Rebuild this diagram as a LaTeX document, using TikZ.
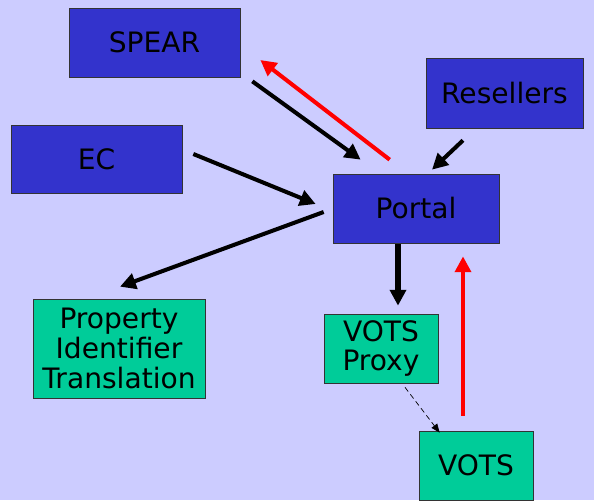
\documentclass[tikz,border=0pt]{standalone}
\usepackage{fontspec}
\setmainfont{DejaVu Sans}
\usetikzlibrary{calc,arrows.meta}
\definecolor{bgcol}{HTML}{CCCCFF}
\definecolor{bluebox}{HTML}{3333CC}
\definecolor{greenbox}{HTML}{00CC99}
\begin{document}
\begin{tikzpicture}[x=0.02cm, y=-0.02cm,
		box/.style={draw=black!80, thin, inner sep=0pt, align=center,
			font=\fontsize{16}{17}\selectfont},
		blue/.style={box, fill=bluebox},
		green/.style={box, fill=greenbox},
		link/.style={line width=2.3pt, -{Triangle[length=9pt,width=9pt]}},
		back/.style={link, red}]
	\fill[bgcol] (0,0) rectangle (594,500);
	\useasboundingbox (0,0) rectangle (594,500);
	% boxes
	\node[blue, minimum width=3.42cm, minimum height=1.38cm] (spear) at (154.5,42.5) {SPEAR};
	\node[blue, minimum width=3.14cm, minimum height=1.40cm] (resellers) at (504.5,93) {Resellers};
	\node[blue, minimum width=3.42cm, minimum height=1.36cm] (ec) at (96.5,159) {EC};
	\node[blue, minimum width=3.32cm, minimum height=1.38cm] (portal) at (416,208.5) {Portal};
	\node[green, minimum width=3.44cm, minimum height=1.98cm] (pit) at (119,348.5) {Property\\Identifier\\Translation};
	\node[green, minimum width=2.28cm, minimum height=1.38cm] (proxy) at (381,348.5) {VOTS\\Proxy};
	\node[green, minimum width=2.28cm, minimum height=1.38cm] (vots) at (476,465.5) {VOTS};
	% requests
	\draw[link] ($(spear.south east)+(12,4)$) -- ($(portal.north west)+(28,-14)$);
	\draw[link] ($(ec.east)+(11,-5)$) -- ($(portal.west)+(-17,-4.5)$);
	\draw[link] ($(resellers.south)+(-41.5,12)$) -- ($(portal.north)+(16,-4)$);
	\draw[link] ($(portal.west)+(-9,3.5)$) -- ($(pit.north)+(1,-12)$);
	\draw[link, line width=3.4pt] ($(portal.south)+(-18,1)$) -- ($(proxy.north)+(17,-8)$);
	\draw[thin, densely dashed, -{Triangle[length=5pt,width=4pt]}] ($(proxy.south)+(24,4)$) -- ($(vots.north west)+(21,2)$);
	% responses
	\draw[back] ($(vots.north)+(-13,-15)$) -- ($(portal.south)+(47,13)$);
	\draw[back] ($(portal.north west)+(57,-14)$) -- ($(spear.east)+(20,17.5)$);
\end{tikzpicture}
\end{document}
